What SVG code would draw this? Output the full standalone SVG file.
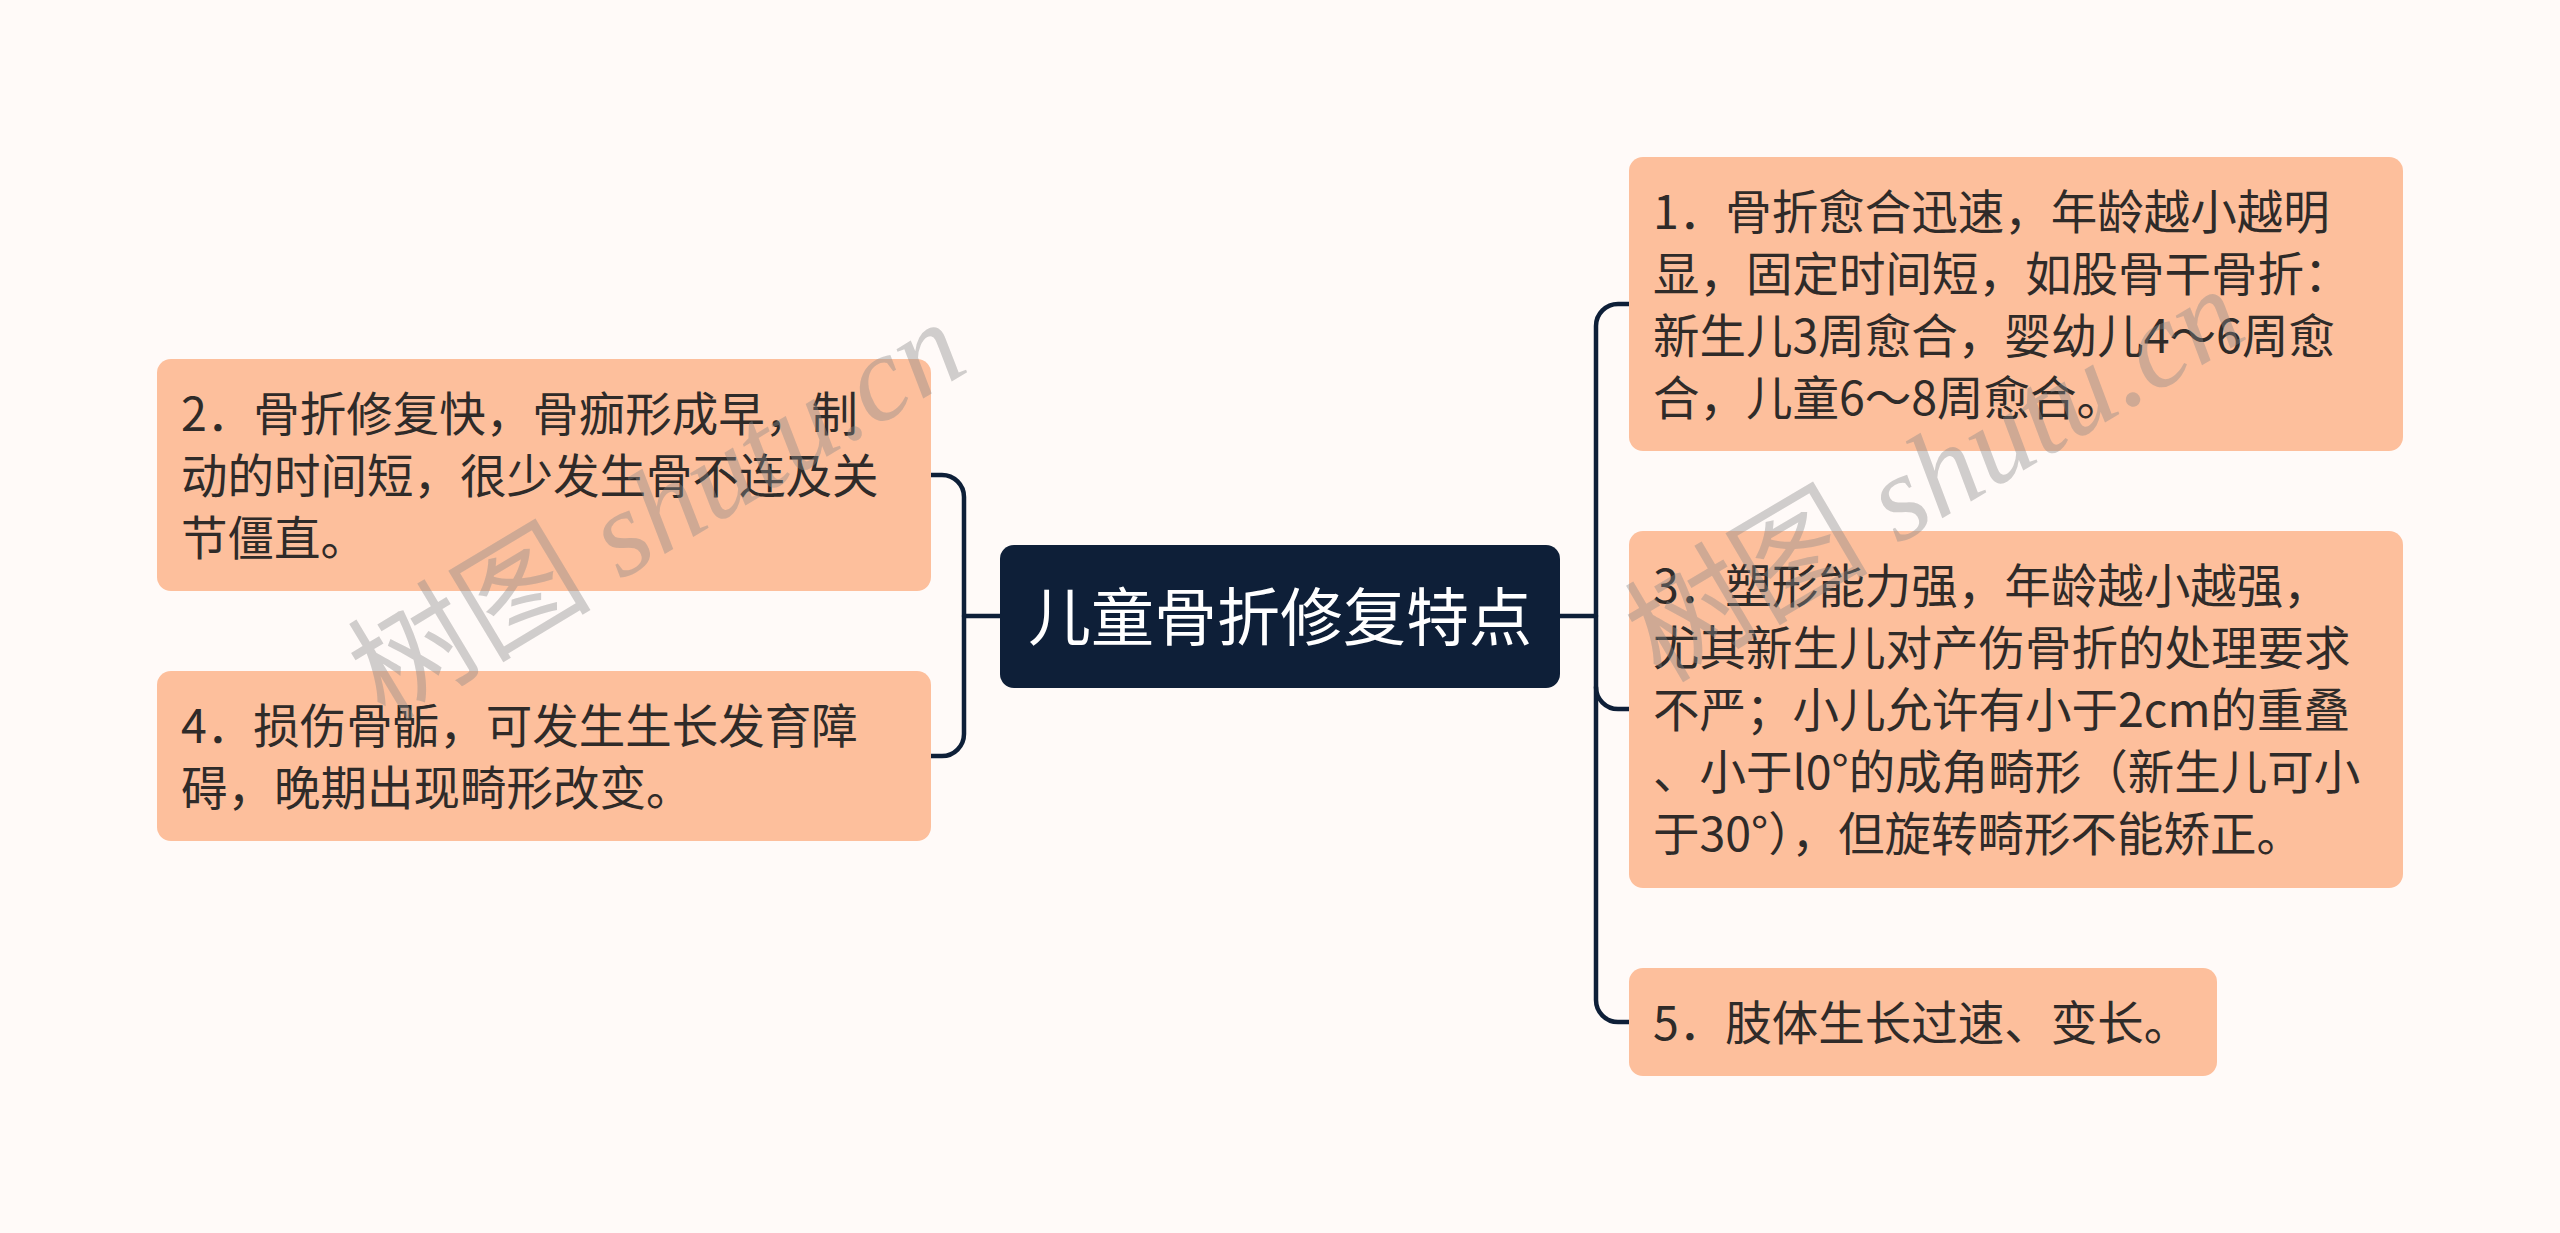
<svg xmlns="http://www.w3.org/2000/svg" width="2560" height="1233" viewBox="0 0 2560 1233">
<style>
.bg{fill:#fffaf8}
.leaf{fill:#fdbf9c}
.root{fill:#0e1f38}
.t{font-family:"Microsoft YaHei","Noto Sans CJK SC","Noto Sans",sans-serif;font-size:46.5px;fill:#2f2b29}
.rt{font-family:"Microsoft YaHei","Noto Sans CJK SC","Noto Sans",sans-serif;font-size:63px;fill:#ffffff}
.c{fill:none;stroke:#0e1f38;stroke-width:4.5;stroke-linecap:round}
.wm{font-family:"Liberation Serif","Noto Sans CJK SC",serif;font-size:122px;fill:#8a8a8a;fill-opacity:0.4}
.wm2{font-style:italic}
</style>
<rect class="bg" x="0" y="0" width="2560" height="1233"/>
<g id="connectors">
<path class="c" d="M1000,616 H964"/>
<path class="c" d="M931,475 H942 A22,22 0 0 1 964,497 V734 A22,22 0 0 1 942,756 H931"/>
<path class="c" d="M1560,616 H1596"/>
<path class="c" d="M1629,304 H1618 A22,22 0 0 0 1596,326 V1000 A22,22 0 0 0 1618,1022 H1629"/>
<path class="c" d="M1596,687 A22,22 0 0 0 1618,709 H1629"/>
</g>
<g id="root">
<rect class="root" x="1000" y="545" width="560" height="143" rx="14"/>
<text class="rt" x="1280" y="640" text-anchor="middle">儿童骨折修复特点</text>
</g>
<g id="node2">
<rect class="leaf" x="157" y="359" width="774" height="232" rx="14"/>
<text class="t" x="181" y="430.5">2．骨折修复快，骨痂形成早，制</text>
<text class="t" x="181" y="492.5">动的时间短，很少发生骨不连及关</text>
<text class="t" x="181" y="554.5">节僵直。</text>
</g>
<g id="node4">
<rect class="leaf" x="157" y="671" width="774" height="170" rx="14"/>
<text class="t" x="181" y="742.5">4．损伤骨骺，可发生生长发育障</text>
<text class="t" x="181" y="804.5">碍，晚期出现畸形改变。</text>
</g>
<g id="node1">
<rect class="leaf" x="1629" y="157" width="774" height="294" rx="14"/>
<text class="t" x="1653" y="228.5">1．骨折愈合迅速，年龄越小越明</text>
<text class="t" x="1653" y="290.5">显，固定时间短，如股骨干骨折：</text>
<text class="t" x="1653" y="352.5">新生儿3周愈合，婴幼儿4～6周愈</text>
<text class="t" x="1653" y="414.5">合，儿童6～8周愈合。</text>
</g>
<g id="node3">
<rect class="leaf" x="1629" y="531" width="774" height="357" rx="14"/>
<text class="t" x="1653" y="602.5">3．塑形能力强，年龄越小越强，</text>
<text class="t" x="1653" y="664.5">尤其新生儿对产伤骨折的处理要求</text>
<text class="t" x="1653" y="726.5">不严；小儿允许有小于2cm的重叠</text>
<text class="t" x="1653" y="788.5">、小于l0°的成角畸形（新生儿可小</text>
<text class="t" x="1653" y="850.5">于30°），但旋转畸形不能矫正。</text>
</g>
<g id="node5">
<rect class="leaf" x="1629" y="968" width="588" height="108" rx="14"/>
<text class="t" x="1653" y="1039.5">5．肢体生长过速、变长。</text>
</g>
<g id="watermarks">
<text class="wm" transform="translate(385,722) rotate(-31)">树图 <tspan class="wm2">shutu.cn</tspan></text>
<text class="wm" transform="translate(1661,684) rotate(-30.5)">树图 <tspan class="wm2">shutu.cn</tspan></text>
</g>
</svg>
